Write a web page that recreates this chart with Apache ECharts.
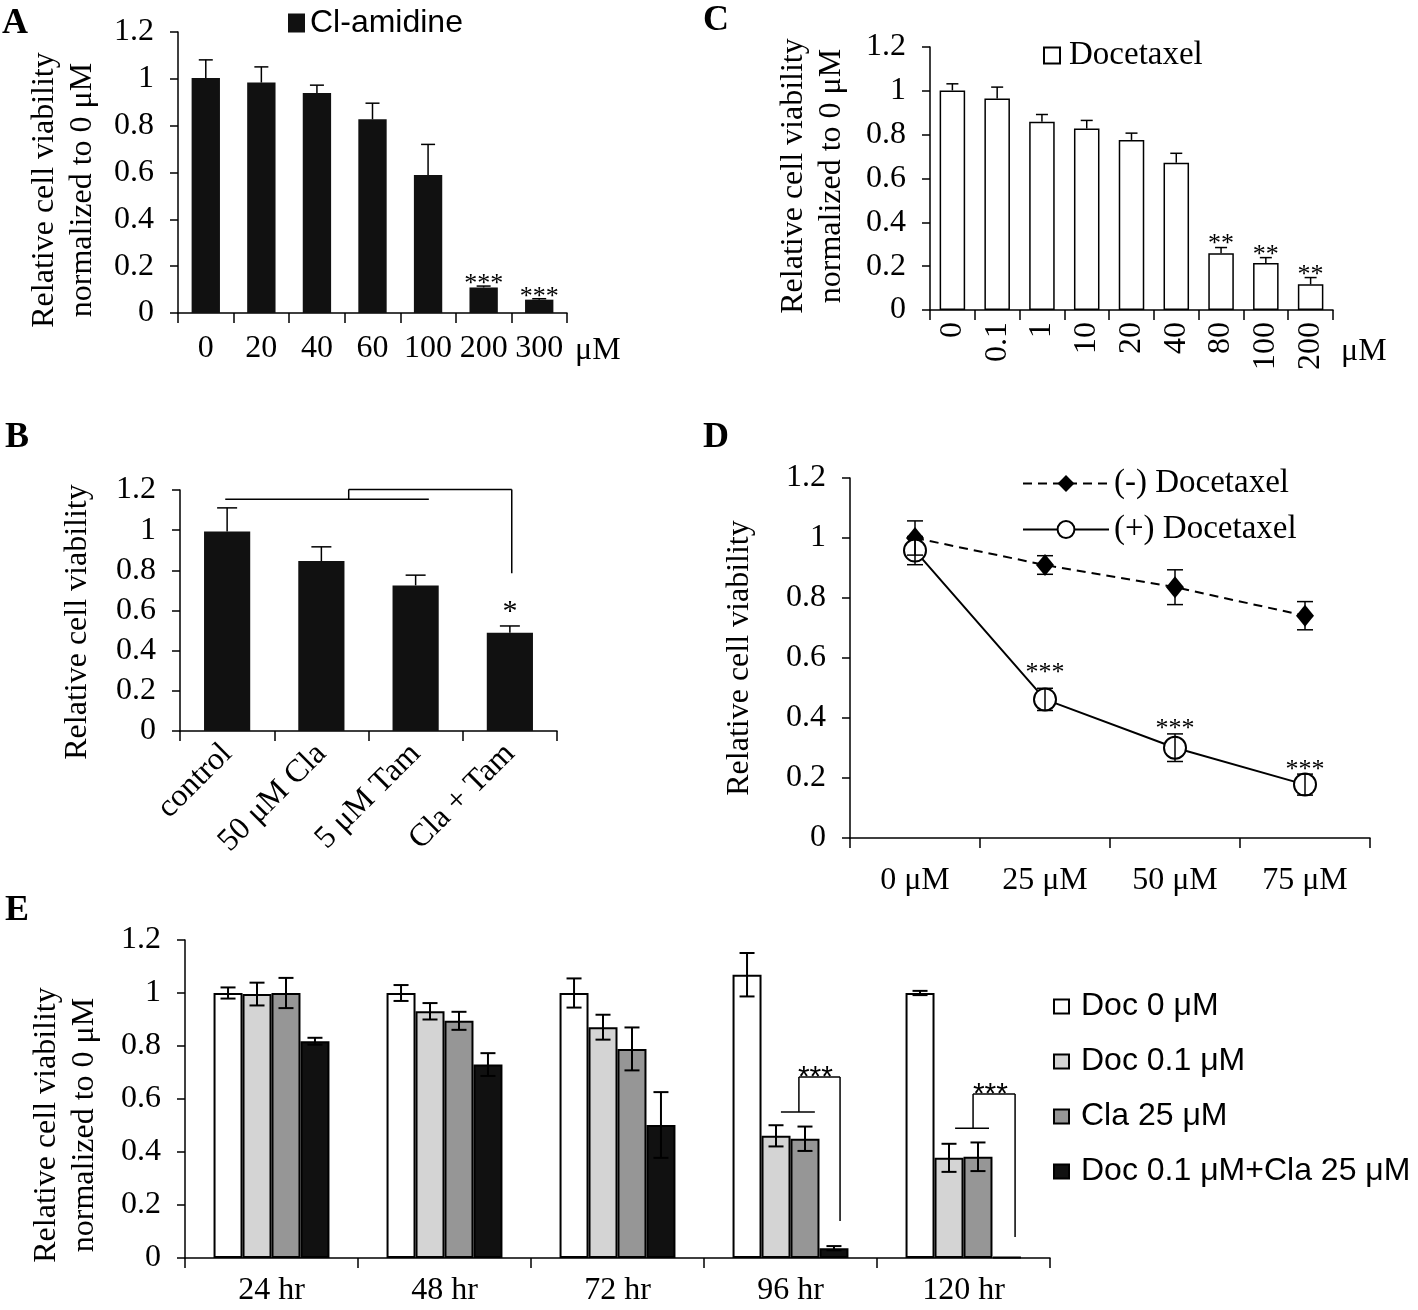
<!DOCTYPE html>
<html><head><meta charset="utf-8">
<script src="https://cdn.jsdelivr.net/npm/echarts@6/dist/echarts.min.js"></script>
<style>html,body{margin:0;padding:0;background:#fff}#c{width:1418px;height:1310px}</style>
</head><body><div id="c"></div>
<script>
const SERIF = '"Liberation Serif", "Times New Roman", serif';
const SANS = '"Liberation Sans", Arial, sans-serif';

// shared y ticks
const yTicks = [0, 0.2, 0.4, 0.6, 0.8, 1, 1.2];

// Panel A
const aCats = ['0', '20', '40', '60', '100', '200', '300'];
const aVals = [1.004, 0.984, 0.939, 0.827, 0.589, 0.109, 0.057];
const aErr  = [0.077, 0.067, 0.034, 0.069, 0.131, 0.006, 0.004];
const aSig  = ['', '', '', '', '', '***', '***'];
const aSigY = [0, 0, 0, 0, 0, 0.145, 0.088];

// Panel C
const cCats = ['0', '0.1', '1', '10', '20', '40', '80', '100', '200'];
const cVals = [1.002, 0.965, 0.859, 0.828, 0.776, 0.672, 0.259, 0.214, 0.117];
const cErr  = [0.030, 0.052, 0.033, 0.037, 0.031, 0.043, 0.026, 0.025, 0.031];
const cSig  = ['', '', '', '', '', '', '**', '**', '**'];
const cSigY = [0, 0, 0, 0, 0, 0, 0.325, 0.272, 0.182];

// Panel B
const bCats = ['control', '50 μM Cla', '5 μM Tam', 'Cla + Tam'];
const bVals = [0.993, 0.846, 0.725, 0.489];
const bErr  = [0.118, 0.071, 0.051, 0.034];
const bSig  = ['', '', '', '*'];
const bSigY = [0, 0, 0, 0.624];
// bracket segments [x1, y1, x2, y2], x in category units
const bBracket = [[-0.02, 1.154, 2.14, 1.154], [1.29, 1.154, 1.29, 1.203], [1.29, 1.203, 3.02, 1.203], [3.02, 1.203, 3.02, 0.785]];

// Panel D
const dCats = ['0 μM', '25 μM', '50 μM', '75 μM'];
const dMinus = [1.0, 0.91, 0.836, 0.741];
const dMinusErr = [0.057, 0.031, 0.058, 0.047];
const dPlus = [0.958, 0.462, 0.301, 0.178];
const dPlusErr = [0.047, 0.037, 0.046, 0.035];
const dSig = ['', '***', '***', '***'];
const dSigY = [0, 0.568, 0.379, 0.245];

// Panel E
const eCats = ['24 hr', '48 hr', '72 hr', '96 hr', '120 hr'];
const eNames = ['Doc 0 μM', 'Doc 0.1 μM', 'Cla 25 μM', 'Doc 0.1 μM+Cla 25 μM'];
const eDoc0 = [1.0, 1.0, 1.0, 1.069, 1.0];
const eDoc0Err = [0.021, 0.03, 0.055, 0.082, 0.008];
const eDoc01 = [0.996, 0.931, 0.871, 0.461, 0.378];
const eDoc01Err = [0.043, 0.031, 0.047, 0.04, 0.053];
const eCla25 = [1.0, 0.895, 0.789, 0.45, 0.382];
const eCla25Err = [0.057, 0.034, 0.081, 0.046, 0.054];
const eCombo = [0.818, 0.73, 0.502, 0.037, 0.004];
const eComboErr = [0.013, 0.043, 0.124, 0.008, 0];
// bracket segments [category, slot1, y1, slot2, y2], slot in bar widths from group centre
const eBracket = [
  [3, -0.33, 0.551, 0.84, 0.551], [3, 0.29, 0.551, 0.29, 0.683], [3, 0.29, 0.683, 1.71, 0.683], [3, 1.71, 0.683, 1.71, 0.14],
  [4, -0.29, 0.49, 0.88, 0.49], [4, 0.33, 0.49, 0.33, 0.619], [4, 0.33, 0.619, 1.78, 0.619], [4, 1.78, 0.619, 1.78, 0.079]
];
// stars [category, slot, y]
const eSig = ['***', '***'];
const eSigPos = [[3, 0.86, 0.683], [4, 0.93, 0.619]];

const E_GAP = 0.33;
const TICK_FONT = 32;

function yAxis(gi) {
  return {
    type: 'value', gridIndex: gi,
    min: yTicks[0], max: yTicks[yTicks.length - 1], interval: yTicks[1] - yTicks[0],
    axisLine: { show: true, onZero: false, lineStyle: { color: '#000', width: 1.5 } },
    axisTick: { show: true, length: 8, lineStyle: { color: '#000', width: 1.5 } },
    axisLabel: { color: '#000', fontFamily: SERIF, fontSize: TICK_FONT, margin: 24,
      formatter: v => String(+(+v).toFixed(1)) },
    splitLine: { show: false }
  };
}
function xAxis(gi, cats, label, extra) {
  return Object.assign({
    type: 'category', gridIndex: gi, data: cats, boundaryGap: true,
    axisLine: { show: true, onZero: false, lineStyle: { color: '#000', width: 1.5 } },
    axisTick: { show: true, interval: 0, length: 10, lineStyle: { color: '#000', width: 1.5 } },
    axisLabel: Object.assign({ color: '#000', fontFamily: SERIF, fontSize: TICK_FONT, interval: 0 }, label),
    splitLine: { show: false }
  }, extra || {});
}

function errRenderer(cfg) {
  return function (params, api) {
    const cat = api.value(0), v = api.value(1), e = api.value(2), slot = api.value(3);
    if (!e) return null;
    const band = api.size([1, 0])[0];
    let x = api.coord([cat, v])[0];
    if (cfg.slots) {
      const bw = band * (1 - cfg.gap) / cfg.slots;
      x += (slot - (cfg.slots - 1) / 2) * bw;
    }
    const yTop = api.coord([cat, v + e])[1];
    const yBot = api.coord([cat, cfg.upOnly ? v : v - e])[1];
    const h = cfg.cap / 2;
    const st = { stroke: '#000', lineWidth: cfg.lw || 1.5 };
    const ch = [
      { type: 'line', shape: { x1: x, y1: yTop, x2: x, y2: yBot }, style: st },
      { type: 'line', shape: { x1: x - h, y1: yTop, x2: x + h, y2: yTop }, style: st }
    ];
    if (!cfg.upOnly) ch.push({ type: 'line', shape: { x1: x - h, y1: yBot, x2: x + h, y2: yBot }, style: st });
    return { type: 'group', children: ch };
  };
}
function starRenderer(texts, cfg) {
  return function (params, api) {
    const t = texts[params.dataIndex];
    if (!t) return null;
    const p = api.coord([api.value(0), api.value(1)]);
    return {
      type: 'text', x: p[0], y: p[1] + cfg.size * 0.2,
      style: { text: t, fontSize: cfg.size, fontFamily: cfg.font, fill: '#000',
        align: 'center', verticalAlign: 'middle', textAlign: 'center', textVerticalAlign: 'middle' }
    };
  };
}
function errData(vals, errs, slot) { return vals.map((v, i) => [i, v, errs[i], slot || 0]); }
function starData(ys) { return ys.map((y, i) => [i, y]); }

// B bracket: category-unit x positions measured from category 0
function bBracketRender(params, api) {
  const s = bBracket[params.dataIndex];
  const band = api.size([1, 0])[0];
  const x0 = api.coord([0, 0])[0];
  return { type: 'line',
    shape: { x1: x0 + s[0] * band, y1: api.coord([0, s[1]])[1], x2: x0 + s[2] * band, y2: api.coord([0, s[3]])[1] },
    style: { stroke: '#000', lineWidth: 1.5 } };
}
function eBracketRender(params, api) {
  const s = eBracket[params.dataIndex];
  const band = api.size([1, 0])[0];
  const bw = band * (1 - E_GAP) / 4;
  const xc = api.coord([s[0], 0])[0];
  return { type: 'line',
    shape: { x1: xc + s[1] * bw, y1: api.coord([s[0], s[2]])[1], x2: xc + s[3] * bw, y2: api.coord([s[0], s[4]])[1] },
    style: { stroke: '#000', lineWidth: 1.5 } };
}
function eStarRender(params, api) {
  const s = eSigPos[params.dataIndex];
  const band = api.size([1, 0])[0];
  const bw = band * (1 - E_GAP) / 4;
  const p = api.coord([s[0], s[2]]);
  return { type: 'text', x: p[0] + s[1] * bw, y: p[1] + 1,
    style: { text: eSig[params.dataIndex], fontSize: 30, fontFamily: SANS, fill: '#000',
      align: 'center', verticalAlign: 'middle', textAlign: 'center', textVerticalAlign: 'middle' } };
}

const muName = (pad) => ({
  name: 'μM', nameLocation: 'end', nameGap: 8,
  nameTextStyle: { color: '#000', fontFamily: SERIF, fontSize: TICK_FONT, verticalAlign: 'top', align: 'left', padding: [pad, 0, 0, 0] }
});

const eColors = ['#ffffff', '#d4d4d4', '#969696', '#111111'];
const eVals = [eDoc0, eDoc01, eCla25, eCombo];
const eErrs = [eDoc0Err, eDoc01Err, eCla25Err, eComboErr];

function panelLetter(t, x, y) {
  return { type: 'text', left: x, top: y, style: { text: t, fontFamily: SERIF, fontWeight: 'bold', fontSize: 36, fill: '#000' } };
}
function yTitle(t, x, y) {
  return { type: 'text', x: x, y: y, rotation: Math.PI / 2,
    style: { text: t, fontFamily: SERIF, fontSize: 32, lineHeight: 38, fill: '#000',
      align: 'center', verticalAlign: 'middle', textAlign: 'center', textVerticalAlign: 'middle' } };
}

const series = [
  // A
  { type: 'bar', name: 'Cl-amidine', xAxisIndex: 0, yAxisIndex: 0, data: aVals, barWidth: '51%',
    itemStyle: { color: '#111' } },
  { type: 'custom', xAxisIndex: 0, yAxisIndex: 0, z: 5, data: errData(aVals, aErr),
    renderItem: errRenderer({ upOnly: true, cap: 14 }) },
  { type: 'custom', xAxisIndex: 0, yAxisIndex: 0, z: 5, data: starData(aSigY),
    renderItem: starRenderer(aSig, { size: 26, font: SERIF }) },
  // C
  { type: 'bar', name: 'Docetaxel', xAxisIndex: 1, yAxisIndex: 1, data: cVals, barWidth: '57%',
    itemStyle: { color: '#fff', borderColor: '#000', borderWidth: 1.5 } },
  { type: 'custom', xAxisIndex: 1, yAxisIndex: 1, z: 5, data: errData(cVals, cErr),
    renderItem: errRenderer({ upOnly: true, cap: 12 }) },
  { type: 'custom', xAxisIndex: 1, yAxisIndex: 1, z: 5, data: starData(cSigY),
    renderItem: starRenderer(cSig, { size: 26, font: SERIF }) },
  // B
  { type: 'bar', name: 'B bars', xAxisIndex: 2, yAxisIndex: 2, data: bVals, barWidth: '49%',
    itemStyle: { color: '#111' } },
  { type: 'custom', xAxisIndex: 2, yAxisIndex: 2, z: 5, data: errData(bVals, bErr),
    renderItem: errRenderer({ upOnly: true, cap: 20 }) },
  { type: 'custom', xAxisIndex: 2, yAxisIndex: 2, z: 5, data: bBracket.map(s => [0, s[1]]),
    renderItem: bBracketRender },
  { type: 'custom', xAxisIndex: 2, yAxisIndex: 2, z: 5, data: starData(bSigY),
    renderItem: starRenderer(bSig, { size: 30, font: SERIF }) },
  // D
  { type: 'line', name: '(-) Docetaxel', xAxisIndex: 3, yAxisIndex: 3, data: dMinus,
    symbol: 'diamond', symbolSize: [18, 22], itemStyle: { color: '#000' },
    lineStyle: { color: '#000', width: 2, type: [9, 6] } },
  { type: 'line', name: '(+) Docetaxel', xAxisIndex: 3, yAxisIndex: 3, data: dPlus,
    symbol: 'emptyCircle', symbolSize: 22, itemStyle: { color: '#000', borderWidth: 1.5 },
    lineStyle: { color: '#000', width: 2 } },
  { type: 'custom', xAxisIndex: 3, yAxisIndex: 3, z: 5, data: errData(dMinus, dMinusErr),
    renderItem: errRenderer({ cap: 16 }) },
  { type: 'custom', xAxisIndex: 3, yAxisIndex: 3, z: 5, data: errData(dPlus, dPlusErr),
    renderItem: errRenderer({ cap: 16 }) },
  { type: 'custom', xAxisIndex: 3, yAxisIndex: 3, z: 5, data: starData(dSigY),
    renderItem: starRenderer(dSig, { size: 26, font: SERIF }) }
];
// E bars
eVals.forEach((vals, k) => {
  series.push({ type: 'bar', name: eNames[k], xAxisIndex: 4, yAxisIndex: 4, data: vals,
    barGap: '0%', barCategoryGap: (E_GAP * 100) + '%',
    itemStyle: { color: eColors[k], borderColor: '#000', borderWidth: 2 } });
});
eVals.forEach((vals, k) => {
  series.push({ type: 'custom', xAxisIndex: 4, yAxisIndex: 4, z: 5, data: errData(vals, eErrs[k], k),
    renderItem: errRenderer({ cap: 15, slots: 4, gap: E_GAP, lw: 2 }) });
});
series.push({ type: 'custom', xAxisIndex: 4, yAxisIndex: 4, z: 5, data: eBracket.map(s => [s[0], s[2]]),
  renderItem: eBracketRender });
series.push({ type: 'custom', xAxisIndex: 4, yAxisIndex: 4, z: 5, data: eSigPos.map(s => [s[0], s[2]]),
  renderItem: eStarRender });

const option = {
  animation: false,
  backgroundColor: '#fff',
  grid: [
    { left: 178, top: 32, width: 389, height: 281, outerBoundsMode: 'none' },
    { left: 930, top: 47, width: 403, height: 263, outerBoundsMode: 'none' },
    { left: 180, top: 490, width: 377, height: 241, outerBoundsMode: 'none' },
    { left: 850, top: 478, width: 520, height: 360, outerBoundsMode: 'none' },
    { left: 185, top: 940, width: 865, height: 318, outerBoundsMode: 'none' }
  ],
  xAxis: [
    xAxis(0, aCats, { margin: 20 }, muName(22)),
    xAxis(1, cCats, { rotate: 90, margin: 12 }, muName(26)),
    xAxis(2, bCats, { rotate: 45, margin: 18 }),
    xAxis(3, dCats, { margin: 27 }),
    xAxis(4, eCats, { margin: 17 })
  ],
  yAxis: [yAxis(0), yAxis(1), yAxis(2), yAxis(3), yAxis(4)],
  legend: [
    { data: ['Cl-amidine'], left: 283, top: 2, icon: 'rect', itemWidth: 17, itemHeight: 19,
      textStyle: { fontFamily: SANS, fontSize: 32, color: '#000' } },
    { data: ['Docetaxel'], left: 1038, top: 34, icon: 'rect', itemWidth: 16, itemHeight: 16,
      textStyle: { fontFamily: SERIF, fontSize: 33, color: '#000', padding: [0, 0, 0, 4] } },
    { data: ['(-) Docetaxel', '(+) Docetaxel'], orient: 'vertical', left: 1017, top: 462,
      itemWidth: 86, itemHeight: 21, itemGap: 13,
      textStyle: { fontFamily: SERIF, fontSize: 33, color: '#000' } },
    { data: eNames, orient: 'vertical', left: 1048, top: 985, icon: 'rect', itemWidth: 15, itemHeight: 14, itemGap: 22,
      textStyle: { fontFamily: SANS, fontSize: 32, lineHeight: 33, color: '#000', padding: [0, 0, 0, 7] } }
  ],
  graphic: [
    panelLetter('A', 2, 6), panelLetter('C', 703, 3), panelLetter('B', 5, 420),
    panelLetter('D', 703, 420), panelLetter('E', 5, 893),
    yTitle('Relative cell viability\nnormalized to 0 μM', 64, 190),
    yTitle('Relative cell viability\nnormalized to 0 μM', 813, 176),
    yTitle('Relative cell viability', 78, 622),
    yTitle('Relative cell viability', 740, 658),
    yTitle('Relative cell viability\nnormalized to 0 μM', 66, 1125)
  ],
  series: series
};

const chart = echarts.init(document.getElementById('c'));
chart.setOption(option);
</script>
</body></html>
